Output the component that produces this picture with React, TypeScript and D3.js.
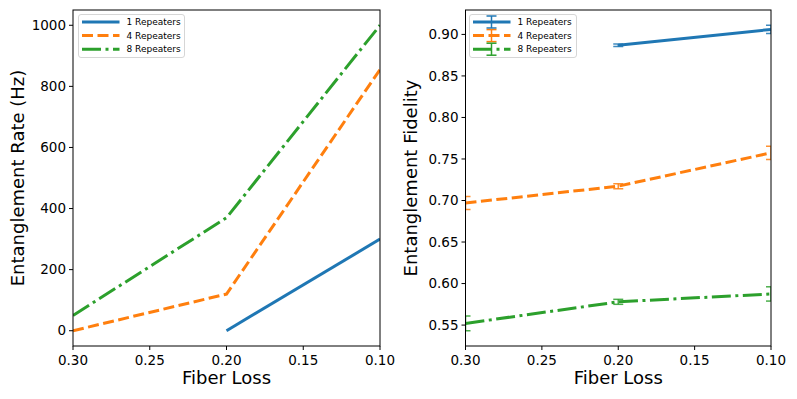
import React from 'react';
import * as d3 from 'd3';

const fiberLoss = [0.3, 0.2, 0.1];
const seriesNames = ['1 Repeaters', '4 Repeaters', '8 Repeaters'];
const colors = ['#1f77b4', '#ff7f0e', '#2ca02c'];
const dashes = ['none', '11,4.5', '19,4.5,3,4.5'];

const rate1 = [null, 0, 300];
const rate4 = [0, 120, 855];
const rate8 = [50, 370, 1000];

const fid1 = [null, 0.887, 0.906];
const fid4 = [0.697, 0.7173, 0.7574];
const fid8 = [0.552, 0.578, 0.5875];
const err1 = [null, 0.0015, 0.005];
const err4 = [0.0077, 0.003, 0.008];
const err8 = [0.0088, 0.003, 0.0086];

const xTicks = [0.3, 0.25, 0.2, 0.15, 0.1];
const rateTicks = [0, 200, 400, 600, 800, 1000];
const fidTicks = [0.55, 0.6, 0.65, 0.7, 0.75, 0.8, 0.85, 0.9];

const W = 797, H = 399;
const font = 'DejaVu Sans, sans-serif';
const LW = 3;

type Panel = {
  left: number; right: number; top: number; bottom: number;
};

function pad(ext: number[]) {
  const r = ext[1] - ext[0];
  return [ext[0] - r * 0.05, ext[1] + r * 0.05];
}

function Legend({ x, y, errorbars }: { x: number; y: number; errorbars: boolean }) {
  const rowH = 13.6;
  return (
    <g transform={`translate(${x},${y})`}>
      <rect x={0} y={0} width={errorbars ? 107 : 106} height={43} rx={2.5}
        fill="white" fillOpacity={0.8} stroke="#cccccc" strokeWidth={0.8} />
      {seriesNames.map((name, i) => {
        const cy = 7.5 + i * rowH;
        return (
          <g key={name}>
            <line x1={3.5} x2={41} y1={cy} y2={cy} stroke={colors[i]} strokeWidth={LW}
              strokeDasharray={dashes[i] === 'none' ? undefined : dashes[i]} />
            {errorbars && (
              <g stroke={colors[i]} strokeWidth={1.5}>
                <line x1={22} x2={22} y1={cy - 6} y2={cy + 6} />
                <line x1={17} x2={27} y1={cy - 6} y2={cy - 6} />
                <line x1={17} x2={27} y1={cy + 6} y2={cy + 6} />
              </g>
            )}
            <text x={48} y={cy} dy="0.35em" fontSize={9} fontFamily={font} fill="#000">{name}</text>
          </g>
        );
      })}
    </g>
  );
}

function Axes({ p, yScale, yTicks, yFormat, ylabel, children, clipId }: any) {
  const x = d3.scaleLinear().domain([0.3, 0.1]).range([p.left, p.right]);
  return (
    <g>
      <defs>
        <clipPath id={clipId}>
          <rect x={p.left} y={p.top} width={p.right - p.left} height={p.bottom - p.top} />
        </clipPath>
      </defs>
      <g clipPath={`url(#${clipId})`}>{children(x)}</g>
      <rect x={p.left} y={p.top} width={p.right - p.left} height={p.bottom - p.top}
        fill="none" stroke="#000" strokeWidth={1} />
      {xTicks.map(t => (
        <g key={t}>
          <line x1={x(t)} x2={x(t)} y1={p.bottom} y2={p.bottom + 4} stroke="#000" strokeWidth={1} />
          <text x={x(t)} y={p.bottom + 14} textAnchor="middle" dy="0.35em" fontSize={13.5}
            fontFamily={font}>{d3.format('.2f')(t)}</text>
        </g>
      ))}
      {yTicks.map((t: number) => (
        <g key={t}>
          <line x1={p.left - 4} x2={p.left} y1={yScale(t)} y2={yScale(t)} stroke="#000" strokeWidth={1} />
          <text x={p.left - 7} y={yScale(t)} textAnchor="end" dy="0.35em" fontSize={13.5}
            fontFamily={font}>{yFormat(t)}</text>
        </g>
      ))}
      <text x={(p.left + p.right) / 2} y={378} textAnchor="middle" dy="0.35em" fontSize={18}
        fontFamily={font}>Fiber Loss</text>
      <text transform={`translate(${p.left - 55},${(p.top + p.bottom) / 2}) rotate(-90)`}
        textAnchor="middle" dy="0.35em" fontSize={18} fontFamily={font}>{ylabel}</text>
    </g>
  );
}

export default function App() {
  const pL: Panel = { left: 73, right: 380, top: 10, bottom: 346 };
  const pR: Panel = { left: 465.5, right: 771, top: 10, bottom: 346 };

  const rates = [rate1, rate4, rate8];
  const fids = [fid1, fid4, fid8];
  const errs = [err1, err4, err8];

  const rateVals = rates.flat().filter(v => v != null) as number[];
  const yL = d3.scaleLinear().domain(pad(d3.extent(rateVals) as number[])).range([pL.bottom, pL.top]);

  const fidLo: number[] = [], fidHi: number[] = [];
  fids.forEach((s, i) => s.forEach((v, j) => {
    if (v != null) { fidLo.push(v - (errs[i][j] as number)); fidHi.push(v + (errs[i][j] as number)); }
  }));
  const yR = d3.scaleLinear().domain(pad([d3.min(fidLo)!, d3.max(fidHi)!])).range([pR.bottom, pR.top]);

  return (
    <svg width={W} height={H} style={{ position: 'absolute', left: 0, top: 0, background: '#fff' }}>
      <Axes p={pL} yScale={yL} yTicks={rateTicks} yFormat={d3.format('d')}
        ylabel="Entanglement Rate (Hz)" clipId="clipL">
        {(x: any) => rates.map((s, i) => {
          const line = d3.line<number | null>()
            .defined(d => d != null)
            .x((_, j) => x(fiberLoss[j]))
            .y(d => yL(d as number));
          return (
            <path key={i} d={line(s) || ''} fill="none" stroke={colors[i]} strokeWidth={LW}
              strokeDasharray={dashes[i] === 'none' ? undefined : dashes[i]} />
          );
        })}
      </Axes>
      <Axes p={pR} yScale={yR} yTicks={fidTicks} yFormat={d3.format('.2f')}
        ylabel="Entanglement Fidelity" clipId="clipR">
        {(x: any) => fids.map((s, i) => {
          const line = d3.line<number | null>()
            .defined(d => d != null)
            .x((_, j) => x(fiberLoss[j]))
            .y(d => yR(d as number));
          return (
            <g key={i}>
              <path d={line(s) || ''} fill="none" stroke={colors[i]} strokeWidth={LW}
                strokeDasharray={dashes[i] === 'none' ? undefined : dashes[i]} />
              {s.map((v, j) => {
                if (v == null) return null;
                const e = errs[i][j] as number;
                const cx = x(fiberLoss[j]);
                return (
                  <g key={j} stroke={colors[i]} strokeWidth={1.5} strokeOpacity={0.85}>
                    <line x1={cx} x2={cx} y1={yR(v - e)} y2={yR(v + e)} />
                    <line x1={cx - 5} x2={cx + 5} y1={yR(v - e)} y2={yR(v - e)} />
                    <line x1={cx - 5} x2={cx + 5} y1={yR(v + e)} y2={yR(v + e)} />
                  </g>
                );
              })}
            </g>
          );
        })}
      </Axes>
      <Legend x={78.5} y={14.5} errorbars={false} />
      <Legend x={469.5} y={14.5} errorbars={true} />
    </svg>
  );
}
